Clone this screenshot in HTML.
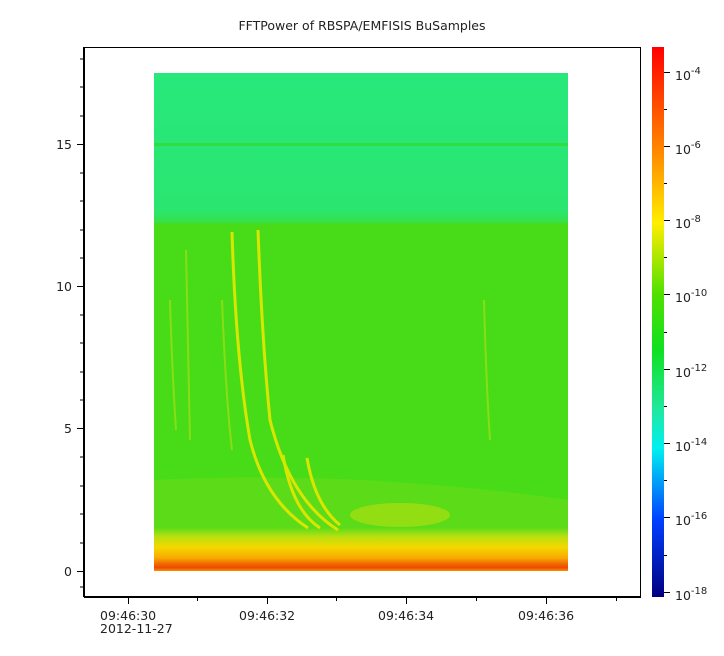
<!DOCTYPE html><html><head><style>body{margin:0;background:#fff}svg{display:block}text{font-family:"DejaVu Sans","Liberation Sans",sans-serif;font-size:12.5px;fill:#222}</style></head><body>
<svg width="724" height="656" xmlns="http://www.w3.org/2000/svg">
<defs>
<linearGradient id="cb" x1="0" y1="0" x2="0" y2="1">
<stop offset="0" stop-color="#ff0000"/><stop offset="0.2" stop-color="#ff9000"/><stop offset="0.32" stop-color="#ffee00"/><stop offset="0.45" stop-color="#50e000"/><stop offset="0.55" stop-color="#10e020"/><stop offset="0.66" stop-color="#20e8a0"/><stop offset="0.73" stop-color="#00f0f0"/><stop offset="0.86" stop-color="#0040ff"/><stop offset="1" stop-color="#000080"/></linearGradient>
<linearGradient id="bot" x1="0" y1="0" x2="0" y2="1">
<stop offset="0" stop-color="#60dc18"/><stop offset="0.2" stop-color="#b8e010"/><stop offset="0.45" stop-color="#f5d800"/><stop offset="0.7" stop-color="#f8a800"/><stop offset="0.82" stop-color="#f07000"/><stop offset="0.92" stop-color="#f04800"/><stop offset="1" stop-color="#f89000"/></linearGradient>
<linearGradient id="top" x1="0" y1="0" x2="0" y2="1">
<stop offset="0" stop-color="#28e87c"/><stop offset="0.9" stop-color="#2ae670"/><stop offset="1" stop-color="#38e040"/></linearGradient>
</defs>
<text x="362" y="30" text-anchor="middle" font-size="12">FFTPower of RBSPA/EMFISIS  BuSamples</text>
<rect x="154" y="73" width="414" height="152" fill="url(#top)"/>
<rect x="154" y="143" width="414" height="3" fill="#30dc40"/>
<rect x="154" y="223" width="414" height="307" fill="#48dc18"/>
<path d="M154,480 Q360,470 568,500 L568,529 L154,529Z" fill="#70dc18" opacity="0.5"/>
<rect x="154" y="528" width="414" height="43" fill="url(#bot)"/>
<ellipse cx="400" cy="515" rx="50" ry="12" fill="#b8e010" opacity="0.6"/>
<g fill="none" stroke="#e8e800" stroke-width="3" opacity="0.9">
<path d="M232,232 Q236,360 250,440 Q265,500 308,528"/>
<path d="M258,230 Q262,340 270,420 Q290,500 338,530"/>
<path d="M283,455 Q292,510 320,528"/>
<path d="M307,458 Q315,505 340,525"/>
</g>
<g fill="none" stroke="#c8e010" stroke-width="2" opacity="0.5">
<path d="M186,250 Q188,360 190,440"/><path d="M170,300 Q172,370 176,430"/><path d="M484,300 Q486,380 490,440"/><path d="M222,300 Q226,400 232,450"/>
</g>
<rect x="84.5" y="47.5" width="556" height="549" fill="none" stroke="#000"/>
<line x1="84" y1="47" x2="84" y2="597" stroke="#000" stroke-width="2"/>
<line x1="84" y1="597" x2="641" y2="597" stroke="#000" stroke-width="2"/>
<g stroke="#000">
<line x1="77" y1="571.5" x2="84" y2="571.5"/><line x1="77" y1="428.5" x2="84" y2="428.5"/><line x1="77" y1="286.5" x2="84" y2="286.5"/><line x1="77" y1="144.5" x2="84" y2="144.5"/>
<line x1="80" y1="543" x2="84" y2="543"/><line x1="80" y1="514" x2="84" y2="514"/><line x1="80" y1="486" x2="84" y2="486"/><line x1="80" y1="457" x2="84" y2="457"/>
<line x1="80" y1="400" x2="84" y2="400"/><line x1="80" y1="372" x2="84" y2="372"/><line x1="80" y1="343" x2="84" y2="343"/><line x1="80" y1="315" x2="84" y2="315"/>
<line x1="80" y1="258" x2="84" y2="258"/><line x1="80" y1="230" x2="84" y2="230"/><line x1="80" y1="201" x2="84" y2="201"/><line x1="80" y1="173" x2="84" y2="173"/>
<line x1="80" y1="116" x2="84" y2="116"/><line x1="80" y1="87" x2="84" y2="87"/><line x1="80" y1="59" x2="84" y2="59"/><line x1="80" y1="587" x2="84" y2="587"/>
<line x1="128.5" y1="597" x2="128.5" y2="604"/><line x1="267.5" y1="597" x2="267.5" y2="604"/><line x1="406.5" y1="597" x2="406.5" y2="604"/><line x1="546.5" y1="597" x2="546.5" y2="604"/>
<line x1="197.5" y1="597" x2="197.5" y2="601"/><line x1="336.5" y1="597" x2="336.5" y2="601"/><line x1="476.5" y1="597" x2="476.5" y2="601"/><line x1="616.5" y1="597" x2="616.5" y2="601"/>
</g>
<g text-anchor="end"><text x="72" y="576">0</text><text x="72" y="433">5</text><text x="72" y="291">10</text><text x="72" y="149">15</text></g>
<g><text x="100" y="620">09:46:30</text><text x="100" y="633">2012-11-27</text><text x="239" y="620">09:46:32</text><text x="378" y="620">09:46:34</text><text x="518" y="620">09:46:36</text></g>
<rect x="652" y="47" width="12" height="550" fill="url(#cb)"/>
<g stroke="#000">
<line x1="664" y1="72.5" x2="670" y2="72.5"/><line x1="664" y1="146.5" x2="670" y2="146.5"/><line x1="664" y1="220.5" x2="670" y2="220.5"/><line x1="664" y1="294.5" x2="670" y2="294.5"/><line x1="664" y1="369.5" x2="670" y2="369.5"/><line x1="664" y1="443.5" x2="670" y2="443.5"/><line x1="664" y1="517.5" x2="670" y2="517.5"/><line x1="664" y1="592.5" x2="670" y2="592.5"/>
<line x1="664" y1="109.5" x2="667" y2="109.5"/><line x1="664" y1="183.5" x2="667" y2="183.5"/><line x1="664" y1="257.5" x2="667" y2="257.5"/><line x1="664" y1="332.5" x2="667" y2="332.5"/><line x1="664" y1="406.5" x2="667" y2="406.5"/><line x1="664" y1="480.5" x2="667" y2="480.5"/><line x1="664" y1="555.5" x2="667" y2="555.5"/>
</g>
<g font-size="13"><text x="675" y="80">10<tspan dy="-6" font-size="10">-4</tspan></text><text x="675" y="154">10<tspan dy="-6" font-size="10">-6</tspan></text><text x="675" y="228">10<tspan dy="-6" font-size="10">-8</tspan></text><text x="675" y="302">10<tspan dy="-6" font-size="10">-10</tspan></text><text x="675" y="377">10<tspan dy="-6" font-size="10">-12</tspan></text><text x="675" y="451">10<tspan dy="-6" font-size="10">-14</tspan></text><text x="675" y="525">10<tspan dy="-6" font-size="10">-16</tspan></text><text x="675" y="600">10<tspan dy="-6" font-size="10">-18</tspan></text></g>
</svg></body></html>
